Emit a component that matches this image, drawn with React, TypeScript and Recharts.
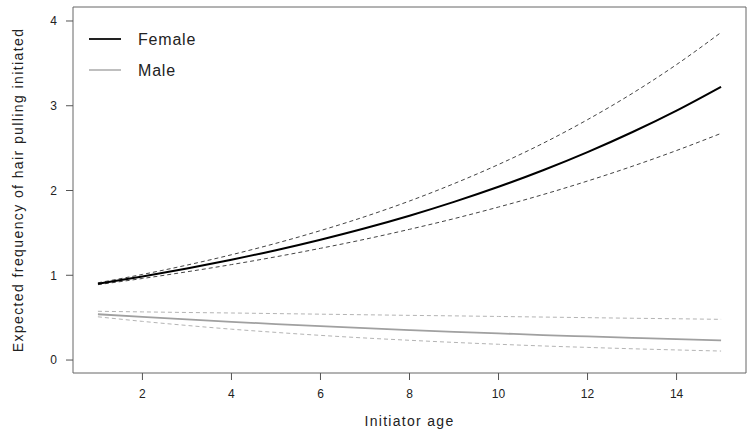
import React from 'react';
import { LineChart, Line, XAxis, YAxis, ReferenceArea, Legend } from 'recharts';

const ages = [1, 2, 3, 4, 5, 6, 7, 8, 9, 10, 11, 12, 13, 14, 15];
const femaleMean = [0.9, 0.986, 1.08, 1.183, 1.296, 1.42, 1.555, 1.703, 1.866, 2.044, 2.239, 2.453, 2.687, 2.943, 3.224];
const femaleUpper = [0.911, 1.01, 1.12, 1.242, 1.377, 1.527, 1.692, 1.876, 2.081, 2.307, 2.557, 2.836, 3.144, 3.486, 3.865];
const femaleLower = [0.889, 0.962, 1.041, 1.126, 1.218, 1.318, 1.425, 1.542, 1.668, 1.805, 1.952, 2.112, 2.285, 2.472, 2.674];
const maleMean = [0.54, 0.508, 0.479, 0.451, 0.424, 0.399, 0.376, 0.354, 0.333, 0.314, 0.295, 0.278, 0.262, 0.246, 0.232];
const maleUpper = [0.575, 0.568, 0.561, 0.555, 0.548, 0.541, 0.534, 0.527, 0.521, 0.514, 0.507, 0.5, 0.493, 0.487, 0.48];
const maleLower = [0.51, 0.456, 0.408, 0.364, 0.326, 0.291, 0.26, 0.233, 0.208, 0.186, 0.166, 0.149, 0.133, 0.119, 0.106];

const xTicks = [2, 4, 6, 8, 10, 12, 14];
const yTicks = [0, 1, 2, 3, 4];
const xDomain: [number, number] = [0.44, 15.56];
const yDomain: [number, number] = [-0.153, 4.165];

const legendItems = [
  { label: 'Female', color: '#222222', width: 2 },
  { label: 'Male', color: '#aaaaaa', width: 1.5 },
];

const data = ages.map((a, i) => ({
  age: a,
  femaleMean: femaleMean[i],
  femaleUpper: femaleUpper[i],
  femaleLower: femaleLower[i],
  maleMean: maleMean[i],
  maleUpper: maleUpper[i],
  maleLower: maleLower[i],
}));

const FONT = '"Liberation Sans", Arial, sans-serif';
const TEXT = '#222222';

const LegendContent = () => (
  <div style={{ fontFamily: FONT }}>
    {legendItems.map((it) => (
      <div key={it.label} style={{ display: 'flex', alignItems: 'center', height: 31 }}>
        <svg width={32} height={10} style={{ display: 'block' }}>
          <line x1={0} y1={5} x2={32} y2={5} stroke={it.color} strokeWidth={it.width} />
        </svg>
        <span style={{ marginLeft: 17, fontSize: 16, letterSpacing: 0.8, color: TEXT, lineHeight: '31px' }}>
          {it.label}
        </span>
      </div>
    ))}
  </div>
);

const YTitle = (props: any) => {
  const vb = props.viewBox || { x: 0, y: 7, width: 73, height: 366 };
  const cx = vb.x + 22.7;
  const cy = vb.y + vb.height / 2;
  return (
    <text
      x={cx}
      y={cy}
      transform={`rotate(-90, ${cx}, ${cy})`}
      textAnchor="middle"
      fontSize={14}
      letterSpacing={1.4}
      fill={TEXT}
      fontFamily={FONT}
    >
      Expected frequency of hair pulling initiated
    </text>
  );
};

const XTitle = (props: any) => {
  const vb = props.viewBox || { x: 73, y: 373, width: 673, height: 62 };
  const cx = vb.x + vb.width / 2;
  const cy = vb.y + 52.5;
  return (
    <text x={cx} y={cy} textAnchor="middle" fontSize={14} letterSpacing={1.3} fill={TEXT} fontFamily={FONT}>
      Initiator age
    </text>
  );
};

export default function App() {
  return (
    <div style={{ position: 'absolute', left: 0, top: 0, width: 754, height: 435, background: '#ffffff' }}>
      <LineChart width={754} height={435} data={data} margin={{ top: 7, right: 8, left: 0, bottom: 0 }}>
        <XAxis
          dataKey="age"
          type="number"
          domain={xDomain}
          ticks={xTicks}
          allowDataOverflow
          height={62}
          tickSize={7}
          tickMargin={9}
          axisLine={false}
          tickLine={{ stroke: '#555555' }}
          tick={{ fontSize: 12, fill: TEXT, fontFamily: FONT }}
          label={<XTitle />}
        />
        <YAxis
          type="number"
          domain={yDomain}
          ticks={yTicks}
          allowDataOverflow
          width={73}
          tickSize={7}
          tickMargin={9}
          axisLine={false}
          tickLine={{ stroke: '#555555' }}
          tick={{ fontSize: 12, fill: TEXT, fontFamily: FONT }}
          label={<YTitle />}
        />
        <ReferenceArea
          x1={xDomain[0]}
          x2={xDomain[1]}
          y1={yDomain[0]}
          y2={yDomain[1]}
          fill="none"
          fillOpacity={0}
          stroke="#666666"
          strokeWidth={1}
        />
        <Line type="monotone" dataKey="maleUpper" stroke="#b4b4b4" strokeWidth={1} strokeDasharray="4 3" dot={false} isAnimationActive={false} />
        <Line type="monotone" dataKey="maleLower" stroke="#b4b4b4" strokeWidth={1} strokeDasharray="4 3" dot={false} isAnimationActive={false} />
        <Line type="monotone" dataKey="maleMean" stroke="#a0a0a0" strokeWidth={1.8} dot={false} isAnimationActive={false} />
        <Line type="monotone" dataKey="femaleUpper" stroke="#444444" strokeWidth={1} strokeDasharray="4 3" dot={false} isAnimationActive={false} />
        <Line type="monotone" dataKey="femaleLower" stroke="#444444" strokeWidth={1} strokeDasharray="4 3" dot={false} isAnimationActive={false} />
        <Line type="monotone" dataKey="femaleMean" stroke="#000000" strokeWidth={2} dot={false} isAnimationActive={false} />
        <Legend
          layout="horizontal"
          verticalAlign="middle"
          align="center"
          content={<LegendContent />}
          wrapperStyle={{ left: 89, top: 23.5, width: 200, height: 62 }}
        />
      </LineChart>
    </div>
  );
}
